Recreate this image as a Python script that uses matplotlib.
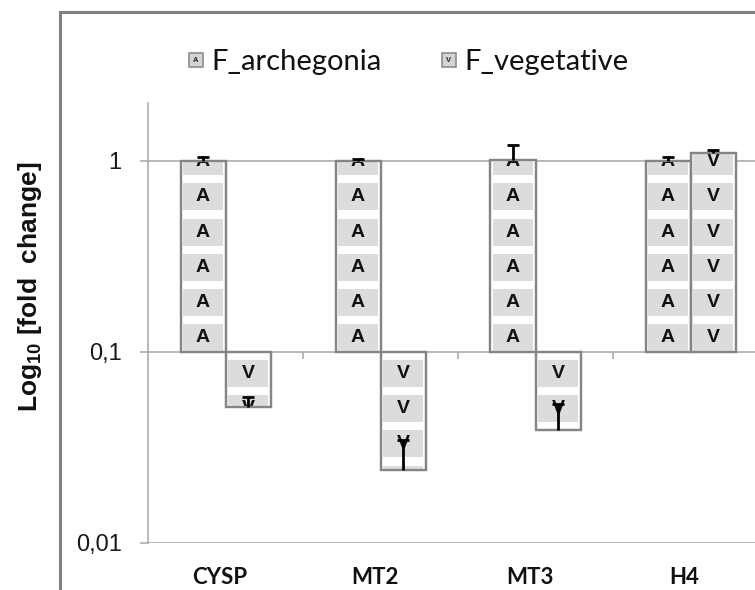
import numpy as np
import matplotlib
matplotlib.use("Agg")
import matplotlib.pyplot as plt
from matplotlib.patches import Rectangle
import matplotlib.transforms as mtransforms

# ---------------- data ----------------
categories = ["CYSP", "MT2", "MT3", "H4"]
series_names = ["F_archegonia", "F_vegetative"]
series_letters = ["A", "V"]
archegonia = [1.00, 1.00, 1.01, 0.99]
archegonia_err = [0.05, 0.02, 0.20, 0.06]
vegetative = [0.0515, 0.024, 0.039, 1.09]
vegetative_err = [0.0065, 0.0106, 0.0144, 0.04]
y_ticks = [0.01, 0.1, 1]
y_tick_labels = ["0,01", "0,1", "1"]
baseline = 0.1

plt.rcParams['mathtext.fontset'] = 'custom'
plt.rcParams['mathtext.rm'] = 'Liberation Sans'
plt.rcParams['mathtext.bf'] = 'Liberation Sans:bold'

W, H = 755, 590
fig = plt.figure(figsize=(W / 100, H / 100), dpi=100)
ax_l, ax_r, ax_t, ax_b = 148, 768, 103, 543
ax = fig.add_axes([ax_l / W, (H - ax_b) / H, (ax_r - ax_l) / W, (ax_b - ax_t) / H])
ymin, ymax = 0.01, 2.0
ax.set_yscale('log')
ax.set_ylim(ymin, ymax)
ax.set_xlim(-0.5, len(categories) - 0.5)

px_per_dec = (ax_b - ax_t) / np.log10(ymax / ymin)
px_per_unit = (ax_r - ax_l) / len(categories)

grid_c = '#a6a6a6'
edge_c = '#858585'
tile_c = '#dcdcdc'

# grid
for yt in y_ticks:
    ax.axhline(yt, color=grid_c, lw=1.1, zorder=0.5)

for s in ['top', 'right', 'bottom']:
    ax.spines[s].set_visible(False)
ax.spines['left'].set_color(grid_c)
ax.spines['left'].set_linewidth(1.1)
ax.set_yticks(y_ticks)
ax.set_yticklabels(y_tick_labels, fontsize=17, family='Liberation Sans', color='#1a1a1a')
ax.yaxis.set_minor_locator(matplotlib.ticker.NullLocator())
ax.tick_params(axis='y', direction='out', length=6, width=1.1, color=grid_c, pad=13)

x = np.arange(len(categories))
ax.set_xticks(x)
ax.set_xticklabels(categories, fontsize=16, family='Lato', fontweight='bold', color='#111111')
ax.tick_params(axis='x', length=0, pad=17)
shift = mtransforms.ScaledTranslation(-6 / 100, 0, fig.dpi_scale_trans)
for lbl in ax.get_xticklabels():
    lbl.set_transform(lbl.get_transform() + shift)

# category boundary ticks on the baseline
tick_len = 7
ax.vlines(x[:-1] + 0.5, baseline, baseline * 10 ** (-tick_len / px_per_dec),
          color=grid_c, lw=1.1, zorder=0.6)

bw = 45 / px_per_unit
period = 35.3
g0, g1 = 8.0, 35.0
inset = 2.5 / px_per_unit

def off_to_y(off):
    return baseline * 10 ** (-off / px_per_dec)

def draw_series(xs, vals, errs, letter):
    heights = [v - baseline for v in vals]
    bars = ax.bar(xs, heights, bottom=baseline, width=bw, facecolor='white',
                  edgecolor=edge_c, linewidth=1.6, zorder=2)
    for xi, v, patch in zip(xs, vals, bars.patches):
        off_top = -px_per_dec * np.log10(max(v, baseline) / baseline)
        off_bot = -px_per_dec * np.log10(min(v, baseline) / baseline)
        clipbox = mtransforms.TransformedBbox(
            mtransforms.Bbox.from_extents(xi - bw / 2, min(v, baseline),
                                          xi + bw / 2, max(v, baseline)),
            ax.transData)
        k0 = int(np.floor((off_top - g1) / period)) - 1
        k1 = int(np.ceil(off_bot / period)) + 1
        for k in range(k0, k1 + 1):
            a = g0 + period * k
            b = g1 + period * k
            if b < off_top or a > off_bot:
                continue
            y_hi = off_to_y(a)
            y_lo = off_to_y(b)
            r = Rectangle((xi - bw / 2 + inset, y_lo), bw - 2 * inset, y_hi - y_lo,
                          facecolor=tile_c, edgecolor='none', zorder=2.1)
            ax.add_patch(r)
            r.set_clip_path(patch)
            t = ax.text(xi, off_to_y((a + b) / 2), letter, ha='center', va='center',
                        fontsize=14, fontweight='bold', family='Liberation Sans',
                        color='#111111', zorder=2.2)
            t.set_clip_on(True)
            t.set_clip_box(clipbox)
        ol = Rectangle(patch.get_xy(), patch.get_width(), patch.get_height(),
                       facecolor='none', edgecolor=edge_c, linewidth=1.6, zorder=2.3)
        ax.add_patch(ol)
    eb = ax.errorbar(xs, vals, yerr=[np.zeros(len(vals)), errs], fmt='none',
                     ecolor='black', elinewidth=2, capsize=4.5, capthick=2, zorder=3)
    for cl in eb[1]:
        if np.allclose(cl.get_ydata(), vals):
            cl.set_visible(False)

draw_series(x - bw / 2, archegonia, archegonia_err, series_letters[0])
draw_series(x + bw / 2, vegetative, vegetative_err, series_letters[1])

# y label
fig.text(30 / W, (H - 287) / H, r"Log$_{\mathbf{10}}$ [fold  change]", rotation=90,
         ha='center', va='center', fontsize=19, fontweight='bold', family='Liberation Sans',
         color='#111111')

# legend (manual)
def legend_item(xpx, name, letter):
    s = 14
    fig.add_artist(Rectangle(((xpx) / W, (H - 67) / H), s / W, s / H,
                             transform=fig.transFigure, facecolor='#d4d4d4',
                             edgecolor='#8c8c8c', linewidth=1.2))
    fig.text((xpx + s / 2) / W, (H - 60) / H, letter, ha='center', va='center',
             fontsize=5.5, fontweight='bold', family='Liberation Sans', color='#222222')
    fig.text((xpx + 22) / W, (H - 62) / H, name, ha='left', va='center',
             fontsize=21, family='Lato', color='#111111')

legend_item(189, series_names[0], series_letters[0])
legend_item(442, series_names[1], series_letters[1])

# outer chart frame
fig.add_artist(Rectangle((60 / W, -0.2), 1.0, (H - 12) / H + 0.2, transform=fig.transFigure,
                         facecolor='none', edgecolor='#808080', linewidth=2.2))

fig.savefig("out.png", dpi=100)
